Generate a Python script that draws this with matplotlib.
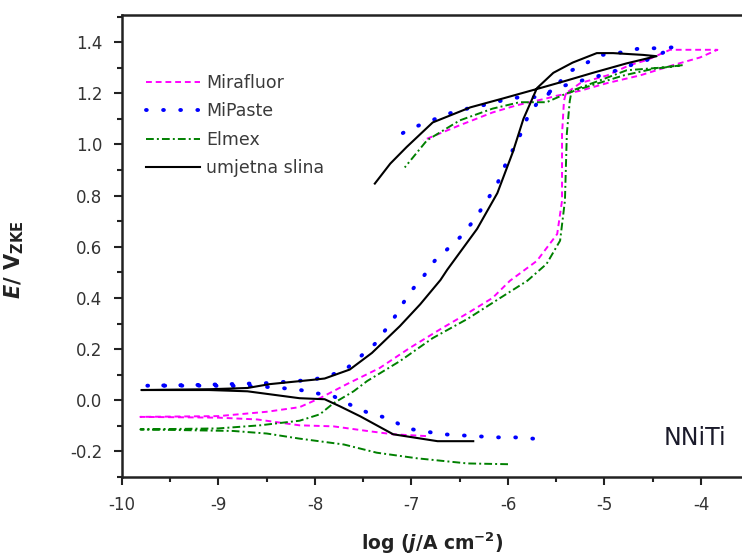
import matplotlib
matplotlib.use("Agg")
import matplotlib.pyplot as plt
from matplotlib.ticker import MultipleLocator

plt.rcParams['font.family'] = ['DejaVu Sans']
plt.rcParams['axes.unicode_minus'] = False
plt.rcParams['mathtext.fontset'] = 'custom'
plt.rcParams['mathtext.rm'] = 'DejaVu Sans:bold'
plt.rcParams['mathtext.bf'] = 'DejaVu Sans:bold'
plt.rcParams['mathtext.it'] = 'DejaVu Sans:italic:bold'

# Mirafluor (cathodic branch -> anodic -> reverse scan)
mira_x = [-6.85, -7.19, -7.46, -7.81, -8.16, -8.60, -9.00, -9.81,
          -9.00, -8.50, -8.16, -7.95, -7.67, -7.33, -7.02, -6.70, -6.42, -6.16,
          -5.98, -5.70, -5.49, -5.44, -5.44, -5.42, -5.40, -5.25, -4.97, -4.74,
          -4.56, -4.32, -4.05, -3.83, -4.01, -4.29, -4.63, -4.97, -5.25, -5.50,
          -5.60, -5.91, -6.16, -6.50, -6.88]
mira_y = [-0.14, -0.133, -0.12, -0.102, -0.098, -0.075, -0.068, -0.065,
          -0.062, -0.045, -0.027, 0.008, 0.063, 0.126, 0.204, 0.278, 0.34, 0.40,
          0.467, 0.545, 0.65, 0.78, 1.04, 1.17, 1.20, 1.24, 1.27, 1.31,
          1.33, 1.37, 1.37, 1.37, 1.34, 1.31, 1.27, 1.24, 1.21, 1.19,
          1.18, 1.153, 1.125, 1.075, 1.016]

# MiPaste
mip_x = [-5.74, -5.93, -6.11, -6.31, -6.67, -6.86, -7.05, -7.24, -7.41, -7.57,
         -7.81, -7.98, -8.19, -8.60, -9.20, -9.74,
         -9.20, -8.50, -8.02, -7.84, -7.69, -7.38, -7.20, -7.02, -6.88, -6.76,
         -6.63, -6.48, -6.34, -6.22, -6.11, -6.03, -5.85, -5.79, -5.70, -5.51,
         -5.39, -5.18, -5.02, -4.82, -4.63, -4.45, -4.27,
         -4.56, -4.81, -4.94, -5.33, -5.50, -5.67, -5.88, -6.08, -6.26, -6.42,
         -6.62, -6.79, -7.00, -7.19]
mip_y = [-0.15, -0.145, -0.145, -0.141, -0.133, -0.122, -0.11, -0.07, -0.055, -0.03,
         0.016, 0.027, 0.043, 0.055, 0.057, 0.057,
         0.06, 0.067, 0.08, 0.098, 0.118, 0.22, 0.31, 0.42, 0.482, 0.545,
         0.59, 0.643, 0.71, 0.78, 0.847, 0.918, 1.055, 1.114, 1.16, 1.22,
         1.28, 1.32, 1.35, 1.36, 1.376, 1.376, 1.38,
         1.33, 1.30, 1.28, 1.24, 1.22, 1.185, 1.185, 1.17, 1.153, 1.14,
         1.12, 1.094, 1.063, 1.024]

# Elmex
elm_x = [-6.00, -6.42, -6.94, -7.36, -7.70, -8.16, -8.50, -8.85, -9.81,
         -9.00, -8.57, -8.16, -7.95, -7.81, -7.60, -7.46, -7.12, -6.78, -6.42,
         -6.08, -5.80, -5.60, -5.46, -5.41, -5.39, -5.36, -5.34, -5.05, -4.77,
         -4.42, -4.19, -4.50, -4.80, -5.10, -5.39, -5.60, -5.88, -6.16, -6.50,
         -6.84, -7.07]
elm_y = [-0.25, -0.247, -0.227, -0.205, -0.173, -0.15, -0.13, -0.12, -0.114,
         -0.11, -0.098, -0.08, -0.055, -0.012, 0.035, 0.075, 0.153, 0.243, 0.318,
         0.40, 0.467, 0.533, 0.624, 0.78, 1.043, 1.17, 1.21, 1.25, 1.29,
         1.30, 1.31, 1.295, 1.27, 1.235, 1.20, 1.165, 1.165, 1.14, 1.094,
         1.016, 0.91]

# umjetna slina
us_x = [-6.36, -6.73, -7.19, -7.53, -7.74, -7.90, -8.16, -8.70, -9.10, -9.80,
        -9.10, -8.70, -8.47, -8.02, -7.90, -7.64, -7.41, -7.12, -6.91, -6.70,
        -6.63, -6.32, -6.11, -5.95, -5.84, -5.70, -5.53, -5.33, -5.08, -4.91,
        -4.60, -4.46, -4.77, -5.12, -5.39, -5.67, -6.05, -6.39, -6.78, -7.05,
        -7.22, -7.38]
us_y = [-0.16, -0.16, -0.133, -0.063, -0.024, 0.004, 0.008, 0.035, 0.04, 0.04,
        0.043, 0.048, 0.063, 0.08, 0.085, 0.12, 0.185, 0.29, 0.375, 0.47,
        0.51, 0.67, 0.81, 0.97, 1.10, 1.22, 1.28, 1.32, 1.357, 1.357,
        1.35, 1.345, 1.317, 1.28, 1.25, 1.22, 1.18, 1.145, 1.086, 0.99,
        0.925, 0.847]

fig = plt.figure(figsize=(7.42, 5.56), dpi=100)
ax = fig.add_axes([122 / 742, 1 - 477 / 556, 620 / 742, 462 / 556])

ax.plot(mira_x, mira_y, color='#ff00ff', lw=1.4, ls=(0, (3, 2)), label='Mirafluor')
ax.plot(mip_x, mip_y, color='#0000ff', lw=2.8, ls=(0, (0.2, 4.2)),
        dash_capstyle='round', label='MiPaste')
ax.plot(elm_x, elm_y, color='#008000', lw=1.4, ls=(0, (4, 1.6, 1, 1.6)), label='Elmex')
ax.plot(us_x, us_y, color='black', lw=1.5, label='umjetna slina')

ax.set_xlim(-10, -3.575)
ax.set_ylim(-0.3, 1.506)
ax.xaxis.set_major_locator(MultipleLocator(1))
ax.xaxis.set_minor_locator(MultipleLocator(0.5))
ax.yaxis.set_major_locator(MultipleLocator(0.2))
ax.yaxis.set_minor_locator(MultipleLocator(0.1))
ax.yaxis.set_major_formatter(plt.FuncFormatter(lambda v, p: f'{v:.1f}'))
ax.xaxis.set_major_formatter(plt.FuncFormatter(lambda v, p: f'{v:.0f}'))
ax.tick_params(which='major', direction='out', length=6, width=1.5,
               labelsize=12, labelcolor='#333333', color='#222222', pad=8)
ax.tick_params(which='minor', direction='out', length=3.5, width=1.5, color='#222222')
for s in ['left', 'bottom', 'top']:
    ax.spines[s].set_linewidth(1.8)
    ax.spines[s].set_color('#222222')
ax.spines['right'].set_visible(False)

ax.set_xlabel(r'log ($\it{j}$/A cm$^{-2}$)', fontsize=13.5, fontweight='bold', color='#222222')
ax.xaxis.label.set_va('center')
ax.xaxis.set_label_coords(0.5, -0.143)
ax.set_ylabel(r'$\it{E}$/ V$_{\rm ZKE}$', fontsize=15, fontweight='bold', color='#222222')
ax.yaxis.set_label_coords(-0.155, 0.47)

ax.text(0.975, 0.085, 'NNiTi', transform=ax.transAxes, fontsize=17,
        color='#1a1a2a', ha='right', va='center')

leg = ax.legend(loc='upper left', bbox_to_anchor=(146 / 742, 1 - 74 / 556),
                bbox_transform=fig.transFigure, frameon=False, fontsize=12.5,
                handlelength=3.1, handletextpad=0.35, labelspacing=0.6,
                borderpad=0, borderaxespad=0)
for t in leg.get_texts():
    t.set_color('#3a3a3a')

fig.savefig('out.png', dpi=100)
